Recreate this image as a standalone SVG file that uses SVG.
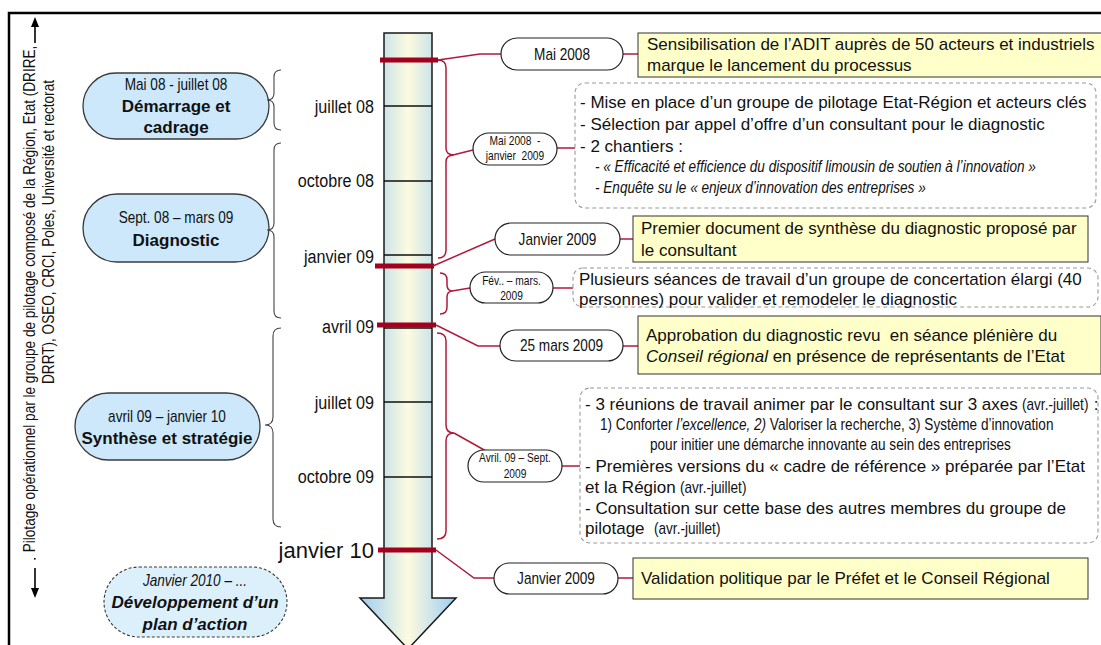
<svg xmlns="http://www.w3.org/2000/svg" width="1101" height="645" viewBox="0 0 1101 645">
  <defs>
    <linearGradient id="shaftFill" gradientUnits="userSpaceOnUse" x1="360" y1="0" x2="456" y2="0">
      <stop offset="0" stop-color="#9ccdf2"/>
      <stop offset="0.5" stop-color="#fdfbdf"/>
      <stop offset="1" stop-color="#9ccdf2"/>
    </linearGradient>
  </defs>
  <style>
    text { font-family: "Liberation Sans", Arial, sans-serif; fill: #111; }
    .phase { fill: #cce8fa; stroke: #3a3a3a; stroke-width: 1.3; }
    .phase-next { fill: #dcf0fc; stroke: #3a3a3a; stroke-width: 1.1; stroke-dasharray: 3 2; }
    .pill { fill: #fff; stroke: #222; stroke-width: 1.2; }
    .fact { fill: #ffffc9; stroke: #333; stroke-width: 1; }
    .work { fill: #fff; stroke: #9a9a9a; stroke-width: 1.1; stroke-dasharray: 4 3; }
    .brace { fill: none; stroke: #444; stroke-width: 1.1; }
    .link { fill: none; stroke: #b11a3b; stroke-width: 1.5; }
    .mark { stroke: #a3001e; stroke-width: 5; }
    .tick { stroke: #111; stroke-width: 1.3; }
    .t17 { font-size: 17px; }
    .t16 { font-size: 16px; }
    .t12 { font-size: 12px; }
    .b { font-weight: bold; }
    .i { font-style: italic; }
    .mid { text-anchor: middle; }
    .end { text-anchor: end; }
  </style>

  <!-- frame -->
  <path d="M9,645 V13 H1101" fill="none" stroke="#000" stroke-width="2.5"/>

  <!-- vertical caption with its arrows -->
  <g id="caption">
    <text class="t16 mid" transform="translate(34.5,299) rotate(-90) scale(0.85,1)">Pilotage opérationnel par le groupe de pilotage composé de la Région, Etat (DRIRE,</text>
    <text class="t16 mid" transform="translate(53.5,232) rotate(-90) scale(0.85,1)">DRRT), OSEO, CRCI, Poles, Université et rectorat</text>
    <path d="M35,43 V26" stroke="#000" stroke-width="1.6"/>
    <path d="M31,27 L39,27 L35,17 Z" fill="#000"/>
    <rect x="34" y="558" width="1.6" height="1.6" fill="#000"/>
    <path d="M35,568 V590" stroke="#000" stroke-width="1.6"/>
    <path d="M31,588 L39,588 L35,598 Z" fill="#000"/>
  </g>

  <!-- timeline arrow -->
  <g id="timeline">
    <path d="M384,33 L432,33 L432,598 L456,598 L408,649 L360,598 L384,598 Z" fill="url(#shaftFill)" stroke="#1a1a1a" stroke-width="1.5"/>
    <path class="tick" d="M384,106 H432 M384,181 H432 M384,255 H432 M384,328 H432 M384,402 H432 M384,477 H432"/>
    <path class="mark" d="M380,60 H438 M375,266 H434 M377,325 H436 M378,550 H436"/>
    <g class="t16">
      <text class="end" transform="translate(374,112.5) scale(0.85,1)" style="font-size:19px">juillet 08</text>
      <text class="end" transform="translate(374,186.5) scale(0.85,1)" style="font-size:19px">octobre 08</text>
      <text class="end" transform="translate(374,262.5) scale(0.85,1)" style="font-size:19px">janvier 09</text>
      <text class="end" transform="translate(374,332.5) scale(0.85,1)" style="font-size:19px">avril 09</text>
      <text class="end" transform="translate(374,408.5) scale(0.85,1)" style="font-size:19px">juillet 09</text>
      <text class="end" transform="translate(374,482.5) scale(0.85,1)" style="font-size:19px">octobre 09</text>
      <text class="end" x="374" y="558" style="font-size:22px">janvier 10</text>
    </g>
  </g>

  <!-- phases -->
  <g id="phase-demarrage">
    <rect class="phase" x="83" y="73" width="186" height="66" rx="33"/>
    <text class="t16 mid" transform="translate(176,89.5) scale(0.85,1)">Mai 08 - juillet 08</text>
    <text class="t17 b mid" x="176" y="112">Démarrage et</text>
    <text class="t17 b mid" x="176" y="133">cadrage</text>
  </g>
  <g id="phase-diagnostic">
    <rect class="phase" x="83" y="194" width="186" height="68" rx="34"/>
    <text class="t16 mid" transform="translate(176,222.5) scale(0.85,1)">Sept. 08 – mars 09</text>
    <text class="t17 b mid" x="176" y="246">Diagnostic</text>
  </g>
  <g id="phase-synthese">
    <rect class="phase" x="75" y="393" width="185" height="67" rx="33.5"/>
    <text class="t16 mid" transform="translate(167,421.5) scale(0.85,1)">avril 09 – janvier 10</text>
    <text class="t17 b mid" x="167" y="444">Synthèse et stratégie</text>
  </g>
  <g id="phase-plan">
    <rect class="phase-next" x="104" y="567" width="183" height="70" rx="35"/>
    <text class="t16 i mid" transform="translate(195,585.5) scale(0.85,1)">Janvier 2010 – ...</text>
    <text class="t17 b i mid" x="195" y="608">Développement d’un</text>
    <text class="t17 b i mid" x="195" y="630">plan d’action</text>
  </g>

  <!-- braces grouping months into phases -->
  <g id="phase-braces">
    <path class="brace" d="M281,70 Q274,70 274,77 L274,93 Q274,100 267,100 Q274,100 274,107 L274,123 Q274,130 281,130"/>
    <path class="brace" d="M281,143 Q274,143 274,150 L274,223 Q274,230 267,230 Q274,230 274,237 L274,311 Q274,318 281,318"/>
    <path class="brace" d="M281,328 Q273,328 273,336 L273,417 Q273,425 265,425 Q273,425 273,433 L273,519 Q273,527 281,527"/>
  </g>

  <!-- connectors from the timeline to dates and descriptions -->
  <g id="connectors">
    <path class="link" d="M438,60 L480,54 L501,54 M623,54 L638,54"/>
    <path class="link" d="M438,60 Q446,60 446,68 L446,148 Q446,155 454,155 Q446,155 446,162 L446,250 Q446,258 438,258 M453,155 L473,150 M557,148 L575,148"/>
    <path class="link" d="M433,266 L495,239 M620,239 L633,239"/>
    <path class="link" d="M440,273 Q447,273 447,280 L447,285 Q447,291 453,291 Q447,291 447,297 L447,307 Q447,314 440,314 M452,291 L470,288 M553,288 L573,288"/>
    <path class="link" d="M436,325 L478,346 L500,346 M623,346 L638,346"/>
    <path class="link" d="M437,333 Q446,333 446,341 L446,425 Q446,433 454,433 Q446,433 446,441 L446,531 Q446,539 437,539 M454,433 L486,451 M562,466 L580,466"/>
    <path class="link" d="M436,550 L474,578 L494,578 M618,578 L633,578"/>
  </g>

  <!-- dates -->
  <g id="date-mai-2008">
    <rect class="pill" x="501" y="38" width="122" height="32" rx="16"/>
    <text class="t16 mid" transform="translate(562,59.5) scale(0.85,1)">Mai 2008</text>
  </g>
  <g id="date-mai-janvier">
    <rect class="pill" x="473" y="133" width="84" height="32" rx="16"/>
    <text class="t12 mid" transform="translate(515,144.5) scale(0.85,1)">Mai 2008 &#160;-</text>
    <text class="t12 mid" transform="translate(515,160) scale(0.85,1)">janvier &#160;2009</text>
  </g>
  <g id="date-janvier-2009">
    <rect class="pill" x="495" y="223" width="125" height="32" rx="16"/>
    <text class="t16 mid" transform="translate(557.5,244.5) scale(0.85,1)">Janvier 2009</text>
  </g>
  <g id="date-fev-mars">
    <rect class="pill" x="470" y="272" width="83" height="31" rx="15.5"/>
    <text class="t12 mid" transform="translate(511.5,285) scale(0.85,1)">Fév.. – mars.</text>
    <text class="t12 mid" transform="translate(511.5,300) scale(0.85,1)">2009</text>
  </g>
  <g id="date-25-mars">
    <rect class="pill" x="500" y="330" width="123" height="31" rx="15.5"/>
    <text class="t16 mid" transform="translate(561.5,351) scale(0.85,1)">25 mars 2009</text>
  </g>
  <g id="date-avril-sept">
    <rect class="pill" x="468" y="450" width="94" height="32" rx="16"/>
    <text class="t12 mid" transform="translate(515,462) scale(0.85,1)">Avril. 09 – Sept.</text>
    <text class="t12 mid" transform="translate(515,477.5) scale(0.85,1)">2009</text>
  </g>
  <g id="date-janvier-2009-b">
    <rect class="pill" x="494" y="563" width="124" height="31" rx="15.5"/>
    <text class="t16 mid" transform="translate(556,584) scale(0.85,1)">Janvier 2009</text>
  </g>

  <!-- descriptions -->
  <g id="fact-sensibilisation">
    <rect class="fact" x="638" y="33" width="466" height="44"/>
    <text class="t17" x="647" y="50">Sensibilisation de l’ADIT auprès de 50 acteurs et industriels</text>
    <text class="t17" x="647" y="71">marque le lancement du processus</text>
  </g>
  <g id="work-pilotage">
    <rect class="work" x="575" y="83" width="521" height="125" rx="10"/>
    <text class="t17" x="580" y="108">- Mise en place d’un groupe de pilotage Etat-Région et acteurs clés</text>
    <text class="t17" x="580" y="130">- Sélection par appel d’offre d’un consultant pour le diagnostic</text>
    <text class="t17" x="580" y="152">- 2 chantiers :</text>
    <text class="t16 i" transform="translate(595,171.5) scale(0.85,1)">- « Efficacité et efficience du dispositif limousin de soutien à l’innovation »</text>
    <text class="t16 i" transform="translate(595,192.5) scale(0.85,1)">- Enquête su le « enjeux d’innovation des entreprises »</text>
  </g>
  <g id="fact-premier-document">
    <rect class="fact" x="633" y="216" width="455" height="46"/>
    <text class="t17" x="641" y="234">Premier document de synthèse du diagnostic proposé par</text>
    <text class="t17" x="641" y="256">le consultant</text>
  </g>
  <g id="work-concertation">
    <rect class="work" x="573" y="268" width="525" height="39" rx="10"/>
    <text class="t17" x="579" y="285">Plusieurs séances de travail d’un groupe de concertation élargi (40</text>
    <text class="t17" x="579" y="305">personnes) pour valider et remodeler le diagnostic</text>
  </g>
  <g id="fact-approbation">
    <rect class="fact" x="638" y="316" width="463" height="58"/>
    <text class="t17" x="646" y="341">Approbation du diagnostic revu &#160;en séance plénière du</text>
    <text class="t17" x="646" y="362"><tspan class="i">Conseil régional</tspan> en présence de représentants de l’Etat</text>
  </g>
  <g id="work-reunions">
    <rect class="work" x="580" y="388" width="518" height="155" rx="10"/>
    <text class="t17" x="585" y="410">- 3 réunions de travail animer par le consultant sur 3 axes</text>
    <text class="t16" transform="translate(1022,410) scale(0.85,1)">(avr.-juillet)</text>
    <text class="t17" x="1089" y="410">&#160;:</text>
    <text class="t16" transform="translate(600,429.5) scale(0.85,1)">1) Conforter <tspan class="i">l’excellence, 2)</tspan> Valoriser la recherche, 3) Système d’innovation</text>
    <text class="t16" transform="translate(650,449.5) scale(0.85,1)">pour initier une démarche innovante au sein des entreprises</text>
    <text class="t17" x="585" y="472">- Premières versions du « cadre de référence » préparée par l’Etat</text>
    <text class="t17" x="585" y="493">et la Région</text>
    <text class="t16" transform="translate(680,493) scale(0.85,1)">(avr.-juillet)</text>
    <text class="t17" x="585" y="514">- Consultation sur cette base des autres membres du groupe de</text>
    <text class="t17" x="585" y="534">pilotage</text>
    <text class="t16" transform="translate(654,534) scale(0.85,1)">(avr.-juillet)</text>
  </g>
  <g id="fact-validation">
    <rect class="fact" x="633" y="558" width="455" height="41"/>
    <text class="t17" x="641" y="584">Validation politique par le Préfet et le Conseil Régional</text>
  </g>
</svg>
